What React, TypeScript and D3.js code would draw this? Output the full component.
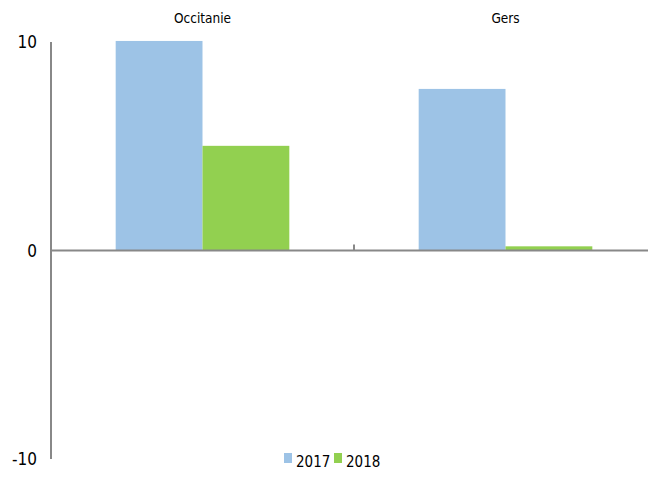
import React from "react";
import * as d3 from "d3";

const categories = ["Occitanie", "Gers"];
const seriesNames = ["2017", "2018"];
const values2017 = [10.05, 7.75];
const values2018 = [5.02, 0.2];
const yTicks = [10, 0, -10];
const colors = ["#9dc3e6", "#92d050"];

const W = 648;
const H = 499;
const font = "'DejaVu Sans Condensed', 'Liberation Sans Narrow', 'Liberation Sans', sans-serif";

export default function App() {
  const y = d3.scaleLinear().domain([-10, 10]).range([459, 42]);
  const x0 = d3.scaleBand().domain(categories).range([51, 657]).paddingInner(0).paddingOuter(0);
  const x1 = d3.scaleBand().domain(seriesNames).range([0, x0.bandwidth()]).paddingOuter(0.745).paddingInner(0);
  const series = [values2017, values2018];

  return (
    <svg width={W} height={H} style={{ position: "absolute", left: 0, top: 0, background: "#fff" }} fontFamily={font}>
      {categories.map((c, i) => (
        <g key={c}>
          {series.map((vals, s) => {
            const v = vals[i];
            const bx = (x0(c) as number) + (x1(seriesNames[s]) as number);
            return (
              <rect
                key={s}
                x={bx}
                y={Math.min(y(v), y(0))}
                width={x1.bandwidth()}
                height={Math.abs(y(v) - y(0))}
                fill={colors[s]}
              />
            );
          })}
          <text x={(x0(c) as number) + x0.bandwidth() / 2} y={23} textAnchor="middle" fontSize={13.5} fill="#000">
            {c}
          </text>
        </g>
      ))}
      {/* y axis */}
      <line x1={51} x2={51} y1={y(10)} y2={y(-10)} stroke="#888" strokeWidth={2} />
      {yTicks.map((t) => (
        <text key={t} x={37} y={y(t) + 6} textAnchor="end" fontSize={17} fill="#000">
          {t}
        </text>
      ))}
      {/* x axis at zero */}
      <line x1={51} x2={W} y1={y(0)} y2={y(0)} stroke="#888" strokeWidth={2} />
      {categories.slice(1).map((c) => (
        <line key={c} x1={x0(c) as number} x2={x0(c) as number} y1={y(0) - 6} y2={y(0)} stroke="#888" strokeWidth={2} />
      ))}
      {/* legend */}
      {seriesNames.map((s, i) => (
        <g key={s} transform={`translate(${284 + i * 50}, 453)`}>
          <rect x={0} y={0} width={8} height={10} fill={colors[i]} />
          <text x={12} y={14} fontSize={15} fill="#000">
            {s}
          </text>
        </g>
      ))}
    </svg>
  );
}
